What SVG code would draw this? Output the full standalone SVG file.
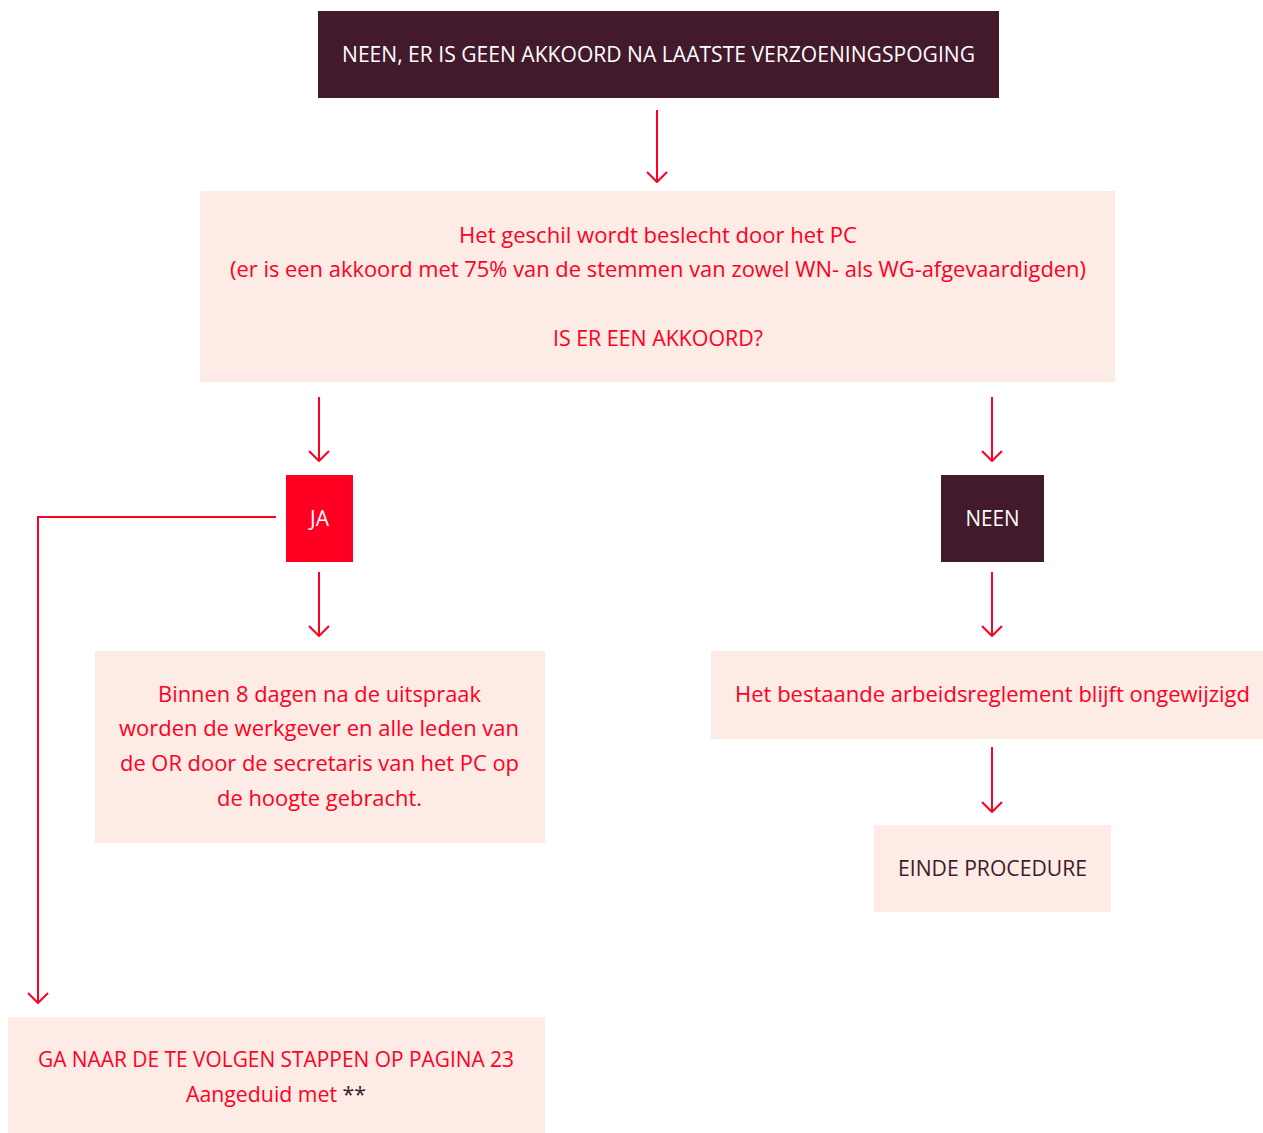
<svg xmlns="http://www.w3.org/2000/svg" width="1263" height="1133" viewBox="0 0 1263 1133">
<defs>
<style>
text{font-family:"Open Sans","Noto Sans",sans-serif;font-size:21px;text-anchor:middle;dominant-baseline:central}
.dark{fill:#431a2b}
.pink{fill:#fdebe5}
.red{fill:#ff0022}
.tw{fill:#ffffff}
.tr{fill:#ff0022}
.td{fill:#431a2b}
.conn{stroke:#ff0022;stroke-width:2;fill:none}
</style>
<marker id="ah" viewBox="0 0 12 22" refX="11" refY="11" markerWidth="12" markerHeight="22" markerUnits="userSpaceOnUse" orient="auto">
<path d="M1,1 L11,11 L1,21" stroke="#ff0022" stroke-width="2" fill="none"/>
</marker>
</defs>
<rect width="1263" height="1133" fill="#ffffff"/>
<g id="connectors">
<path class="conn" d="M657,110 V182" marker-end="url(#ah)"/>
<path class="conn" d="M319,397 V461" marker-end="url(#ah)"/>
<path class="conn" d="M992,397 V461" marker-end="url(#ah)"/>
<path class="conn" d="M276,517 H38 V1003" marker-end="url(#ah)"/>
<path class="conn" d="M319,572 V636" marker-end="url(#ah)"/>
<path class="conn" d="M992,572 V636" marker-end="url(#ah)"/>
<path class="conn" d="M992,747 V812" marker-end="url(#ah)"/>
</g>
<g id="n-start">
<rect class="dark" x="318" y="11" width="681" height="87"/>
<text class="tw" x="658.5" y="54" textLength="633" lengthAdjust="spacingAndGlyphs">NEEN, ER IS GEEN AKKOORD NA LAATSTE VERZOENINGSPOGING</text>
</g>
<g id="n-pc">
<rect class="pink" x="200" y="191" width="915" height="191"/>
<text class="tr" x="658" y="235" textLength="398" lengthAdjust="spacingAndGlyphs">Het geschil wordt beslecht door het PC</text>
<text class="tr" x="658" y="269" textLength="856" lengthAdjust="spacingAndGlyphs">(er is een akkoord met 75% van de stemmen van zowel WN- als WG-afgevaardigden)</text>
<text class="tr" x="658" y="338" textLength="210" lengthAdjust="spacingAndGlyphs">IS ER EEN AKKOORD?</text>
</g>
<g id="n-ja">
<rect class="red" x="286" y="475" width="67" height="87"/>
<text class="tw" x="319.5" y="518">JA</text>
</g>
<g id="n-neen">
<rect class="dark" x="941" y="475" width="103" height="87"/>
<text class="tw" x="992.5" y="518" textLength="54" lengthAdjust="spacingAndGlyphs">NEEN</text>
</g>
<g id="n-binnen">
<rect class="pink" x="95" y="651" width="450" height="192"/>
<text class="tr" x="319.5" y="694" textLength="323" lengthAdjust="spacingAndGlyphs">Binnen 8 dagen na de uitspraak</text>
<text class="tr" x="319" y="728" textLength="400" lengthAdjust="spacingAndGlyphs">worden de werkgever en alle leden van</text>
<text class="tr" x="319.5" y="763" textLength="399" lengthAdjust="spacingAndGlyphs">de OR door de secretaris van het PC op</text>
<text class="tr" x="319.5" y="798" textLength="205" lengthAdjust="spacingAndGlyphs">de hoogte gebracht.</text>
</g>
<g id="n-bestaande">
<rect class="pink" x="711" y="651" width="552" height="88"/>
<text class="tr" x="992.5" y="694" textLength="515" lengthAdjust="spacingAndGlyphs">Het bestaande arbeidsreglement blijft ongewijzigd</text>
</g>
<g id="n-einde">
<rect class="pink" x="874" y="825" width="237" height="87"/>
<text class="td" x="992.5" y="868" textLength="189" lengthAdjust="spacingAndGlyphs">EINDE PROCEDURE</text>
</g>
<g id="n-ganaar">
<rect class="pink" x="8" y="1017" width="537" height="116"/>
<text class="tr" x="276" y="1059" textLength="476" lengthAdjust="spacingAndGlyphs">GA NAAR DE TE VOLGEN STAPPEN OP PAGINA 23</text>
<text x="276" y="1094" textLength="180" lengthAdjust="spacingAndGlyphs"><tspan class="tr">Aangeduid met </tspan><tspan class="td">**</tspan></text>
</g>
</svg>
